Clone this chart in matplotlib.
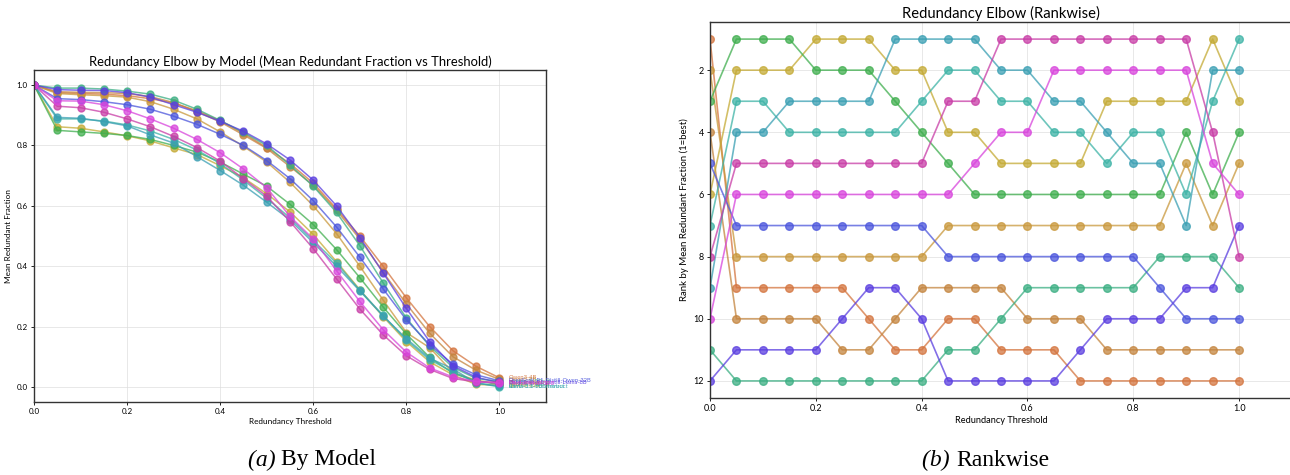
import matplotlib
matplotlib.use("Agg")
import matplotlib.pyplot as plt

plt.rcParams["font.family"] = ["Lato", "DejaVu Sans"]

thresholds = [0.0, 0.05, 0.1, 0.15, 0.2, 0.25, 0.3, 0.35, 0.4, 0.45, 0.5,
              0.55, 0.6, 0.65, 0.7, 0.75, 0.8, 0.85, 0.9, 0.95, 1.0]

models = [
    "Qwen3-4B",
    "Qwen3-8B",
    "Qwen3-14B",
    "Qwen3-32B",
    "gemma-3-12b-it",
    "gemma-3-27b-it",
    "Llama-3.1-8B-Instruct",
    "Llama-3.3-70B-Instruct",
    "DeepSeek-R1-Distill-Qwen-32B",
    "DeepSeek-R1-Distill-Llama-8B",
    "Phi-4-reasoning",
    "Mistral-Small-24B",
]

colors = [
    "#d4743e",  # orange
    "#c4843e",  # brown
    "#c9983c",  # gold
    "#c4aa34",  # olive yellow
    "#3fae4e",  # green
    "#3aae82",  # teal green
    "#3db3a6",  # teal
    "#3a9fb3",  # blue teal
    "#4b55dc",  # blue
    "#5a3ee0",  # purple blue
    "#c83ca6",  # magenta
    "#d844dc",  # bright magenta
]

# mean redundant fraction per model, one value per threshold
frac_qwen3_4b = [1.0, 0.975, 0.972, 0.970, 0.965, 0.955, 0.940, 0.915, 0.882, 0.840, 0.793,
                 0.740, 0.675, 0.590, 0.500, 0.400, 0.295, 0.200, 0.120, 0.068, 0.030]
frac_qwen3_8b = [1.0, 0.978, 0.976, 0.975, 0.972, 0.962, 0.942, 0.912, 0.878, 0.835, 0.790,
                 0.730, 0.668, 0.585, 0.490, 0.380, 0.275, 0.178, 0.100, 0.055, 0.025]
frac_qwen3_14b = [1.0, 0.972, 0.968, 0.965, 0.960, 0.945, 0.920, 0.888, 0.845, 0.797, 0.745,
                  0.678, 0.600, 0.508, 0.400, 0.288, 0.180, 0.130, 0.048, 0.022, 0.010]
frac_qwen3_32b = [1.0, 0.862, 0.857, 0.845, 0.832, 0.815, 0.792, 0.770, 0.733, 0.693, 0.640,
                  0.580, 0.505, 0.415, 0.322, 0.233, 0.150, 0.083, 0.040, 0.008, 0.006]
frac_gemma_12b = [1.0, 0.850, 0.845, 0.840, 0.833, 0.820, 0.800, 0.778, 0.745, 0.705, 0.665,
                  0.605, 0.538, 0.455, 0.362, 0.265, 0.175, 0.098, 0.045, 0.020, 0.008]
frac_gemma_27b = [1.0, 0.990, 0.990, 0.987, 0.980, 0.970, 0.950, 0.920, 0.883, 0.843, 0.800,
                  0.735, 0.665, 0.578, 0.468, 0.345, 0.228, 0.135, 0.065, 0.028, 0.018]
frac_llama_8b = [1.0, 0.888, 0.888, 0.881, 0.868, 0.848, 0.820, 0.785, 0.740, 0.685, 0.625,
                 0.560, 0.485, 0.410, 0.320, 0.237, 0.155, 0.090, 0.050, 0.014, 0.000]
frac_llama_70b = [1.0, 0.893, 0.890, 0.879, 0.865, 0.835, 0.808, 0.763, 0.717, 0.668, 0.612,
                  0.553, 0.478, 0.400, 0.318, 0.235, 0.160, 0.095, 0.060, 0.012, 0.003]
frac_r1_qwen = [1.0, 0.955, 0.952, 0.945, 0.935, 0.920, 0.897, 0.870, 0.837, 0.800, 0.750,
                0.690, 0.617, 0.530, 0.430, 0.325, 0.222, 0.140, 0.075, 0.040, 0.020]
frac_r1_llama = [1.0, 0.985, 0.983, 0.982, 0.975, 0.960, 0.935, 0.910, 0.880, 0.847, 0.805,
                 0.752, 0.685, 0.600, 0.495, 0.378, 0.260, 0.150, 0.070, 0.032, 0.014]
frac_phi4 = [1.0, 0.930, 0.925, 0.910, 0.888, 0.862, 0.830, 0.793, 0.748, 0.690, 0.632,
             0.548, 0.458, 0.358, 0.258, 0.173, 0.103, 0.058, 0.028, 0.016, 0.016]
frac_mistral = [1.0, 0.948, 0.947, 0.935, 0.915, 0.888, 0.857, 0.820, 0.776, 0.722, 0.660,
                0.565, 0.490, 0.385, 0.283, 0.190, 0.115, 0.063, 0.033, 0.018, 0.012]

# rank per model at each threshold (1 = lowest redundant fraction)
rank_qwen3_4b = [1, 9, 9, 9, 9, 9, 10, 11, 11, 10, 10, 11, 11, 11, 12, 12, 12, 12, 12, 12, 12]
rank_qwen3_8b = [4, 10, 10, 10, 10, 11, 11, 10, 9, 9, 9, 9, 10, 10, 10, 11, 11, 11, 11, 11, 11]
rank_qwen3_14b = [2, 8, 8, 8, 8, 8, 8, 8, 8, 7, 7, 7, 7, 7, 7, 7, 7, 7, 5, 7, 5]
rank_qwen3_32b = [6, 2, 2, 2, 1, 1, 1, 2, 2, 4, 4, 5, 5, 5, 5, 3, 3, 3, 3, 1, 3]
rank_gemma_12b = [3, 1, 1, 1, 2, 2, 2, 3, 4, 5, 6, 6, 6, 6, 6, 6, 6, 6, 4, 6, 4]
rank_gemma_27b = [11, 12, 12, 12, 12, 12, 12, 12, 12, 11, 11, 10, 9, 9, 9, 9, 9, 8, 8, 8, 9]
rank_llama_8b = [7, 3, 3, 4, 4, 4, 4, 4, 3, 2, 2, 3, 3, 4, 4, 5, 4, 4, 6, 3, 1]
rank_llama_70b = [9, 4, 4, 3, 3, 3, 3, 1, 1, 1, 1, 2, 2, 3, 3, 4, 5, 5, 7, 2, 2]
rank_r1_qwen = [5, 7, 7, 7, 7, 7, 7, 7, 7, 8, 8, 8, 8, 8, 8, 8, 8, 9, 10, 10, 10]
rank_r1_llama = [12, 11, 11, 11, 11, 10, 9, 9, 10, 12, 12, 12, 12, 12, 11, 10, 10, 10, 9, 9, 7]
rank_phi4 = [8, 5, 5, 5, 5, 5, 5, 5, 5, 3, 3, 1, 1, 1, 1, 1, 1, 1, 1, 4, 8]
rank_mistral = [10, 6, 6, 6, 6, 6, 6, 6, 6, 6, 5, 4, 4, 2, 2, 2, 2, 2, 2, 5, 6]

fractions = [frac_qwen3_4b, frac_qwen3_8b, frac_qwen3_14b, frac_qwen3_32b,
             frac_gemma_12b, frac_gemma_27b, frac_llama_8b, frac_llama_70b,
             frac_r1_qwen, frac_r1_llama, frac_phi4, frac_mistral]
ranks = [rank_qwen3_4b, rank_qwen3_8b, rank_qwen3_14b, rank_qwen3_32b,
         rank_gemma_12b, rank_gemma_27b, rank_llama_8b, rank_llama_70b,
         rank_r1_qwen, rank_r1_llama, rank_phi4, rank_mistral]

W, H = 1290, 475
fig = plt.figure(figsize=(W / 100, H / 100), dpi=100)


def px_axes(x0, y0, x1, y1):
    return fig.add_axes([x0 / W, 1 - y1 / H, (x1 - x0) / W, (y1 - y0) / H])


def style(ax, tick_size):
    ax.grid(True, color="#dddddd", lw=0.6, alpha=0.8)
    ax.set_axisbelow(True)
    for s in ax.spines.values():
        s.set_color("#333333")
        s.set_linewidth(1.0)
    ax.tick_params(labelsize=tick_size, length=2.5, width=0.6, pad=2)


# (a) by model
ax1 = px_axes(34, 70, 546, 402)
for name, vals, c in zip(models, fractions, colors):
    ax1.plot(thresholds, vals, "-o", color=c, lw=1.1, ms=5, alpha=0.75)
    ax1.text(1.02, vals[-1], name, color=c, fontsize=4.2, va="center", alpha=0.9)
ax1.set_xlim(0, 1.1)
ax1.set_ylim(-0.05, 1.05)
ax1.set_xlabel("Redundancy Threshold", fontsize=5.9, labelpad=2)
ax1.set_ylabel("Mean Redundant Fraction", fontsize=5.9, labelpad=3)
ax1.set_title("Redundancy Elbow by Model (Mean Redundant Fraction vs Threshold)",
              fontsize=9.4, pad=3)
style(ax1, 5.8)

# (b) rankwise
ax2 = px_axes(710, 22, 1292, 398)
for vals, c in zip(ranks, colors):
    ax2.plot(thresholds, vals, "-o", color=c, lw=1.2, ms=5.5, alpha=0.75)
ax2.set_xlim(0, 1.1)
ax2.set_ylim(12.55, 0.45)
ax2.set_yticks([2, 4, 6, 8, 10, 12])
ax2.set_xlabel("Redundancy Threshold", fontsize=6.7, labelpad=2)
ax2.set_ylabel("Rank by Mean Redundant Fraction (1=best)", fontsize=6.9, labelpad=3)
ax2.set_title("Redundancy Elbow (Rankwise)", fontsize=10.6, pad=3)
style(ax2, 6.5)

# subfigure captions
for x, tag, label in [(281, "(a)", "By Model"), (956, "(b)", "Rankwise")]:
    fig.text(x / W, 1 - 460 / H, tag + " ", ha="right", va="center",
             fontsize=17, family="Liberation Serif", style="italic")
    fig.text(x / W, 1 - 460 / H, label, ha="left", va="center",
             fontsize=17, family="Liberation Serif")

fig.savefig("out.png", dpi=100)
